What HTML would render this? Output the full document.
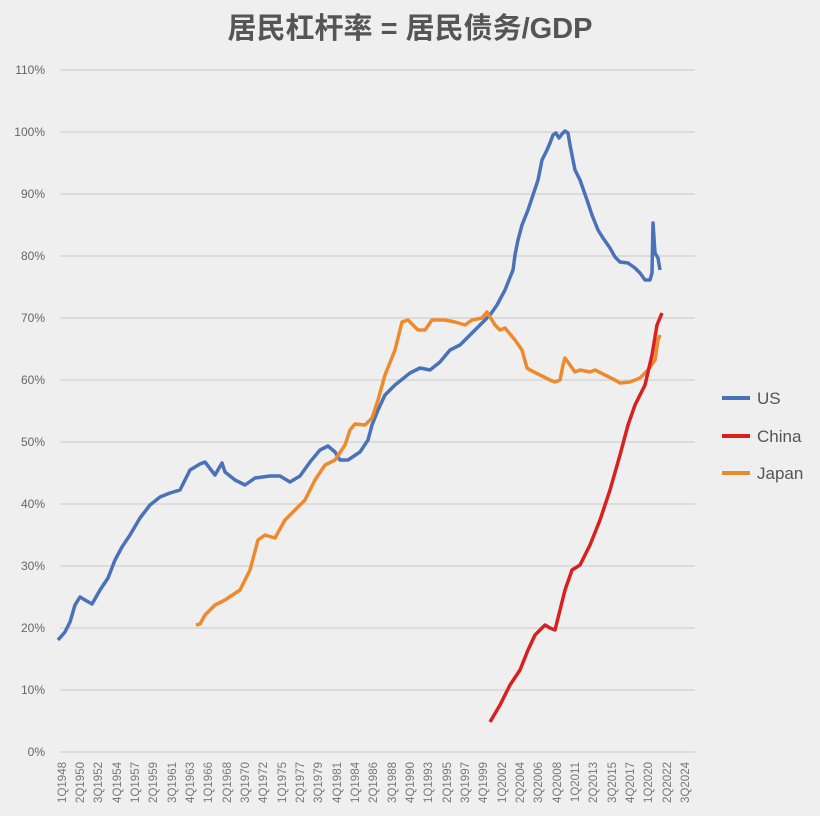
<!DOCTYPE html>
<html><head><meta charset="utf-8"><style>
body{margin:0;background:#efefef;}
svg{display:block;font-family:"Liberation Sans","Noto Sans CJK SC",sans-serif;}
</style></head><body>
<svg width="820" height="816" viewBox="0 0 820 816">
<rect width="820" height="816" fill="#efefef"/>
<text x="410" y="38" text-anchor="middle" font-size="29" font-weight="bold" fill="#555">居民杠杆率 = 居民债务/GDP</text>
<g stroke="#d6d6d6" stroke-width="1.5">
<line x1="60" x2="695" y1="752" y2="752"/><line x1="60" x2="695" y1="690" y2="690"/><line x1="60" x2="695" y1="628" y2="628"/><line x1="60" x2="695" y1="566" y2="566"/><line x1="60" x2="695" y1="504" y2="504"/><line x1="60" x2="695" y1="442" y2="442"/><line x1="60" x2="695" y1="380" y2="380"/><line x1="60" x2="695" y1="318" y2="318"/><line x1="60" x2="695" y1="256" y2="256"/><line x1="60" x2="695" y1="194" y2="194"/><line x1="60" x2="695" y1="132" y2="132"/><line x1="60" x2="695" y1="70" y2="70"/>
</g>
<g font-size="12" fill="#666" text-anchor="end">
<text x="45" y="756">0%</text><text x="45" y="694">10%</text><text x="45" y="632">20%</text><text x="45" y="570">30%</text><text x="45" y="508">40%</text><text x="45" y="446">50%</text><text x="45" y="384">60%</text><text x="45" y="322">70%</text><text x="45" y="260">80%</text><text x="45" y="198">90%</text><text x="45" y="136">100%</text><text x="45" y="74">110%</text>
</g>
<g font-size="11.5" fill="#777" text-anchor="end" id="xl"></g>
<polyline fill="none" stroke="#4a72b8" stroke-width="3.5" stroke-linejoin="round" points="58,640 65,632 70,622 75,605 80,597 85,600 92,604 100,590 108,578 115,560 122,547 130,535 140,518 150,505 160,497 170,493 180,490 190,470 200,464 205,462 215,475 222,463 225,472 235,480 245,485 255,478 270,476 280,476 290,482 300,476 310,462 320,450 328,446 335,452 340,460 348,460 360,452 368,440 372,425 378,410 385,395 395,385 410,373 420,368 430,370 440,362 450,350 460,345 470,335 480,325 490,315 497,305 505,290 513,270 515,255 518,240 522,225 528,210 533,195 538,180 542,160 547,150 550,143 553,135 556,133 559,138 562,134 565,131 568,133 570,145 575,170 580,180 587,200 592,215 598,230 603,238 610,248 615,257 620,262 628,263 635,268 640,273 645,280 650,280 652,273 653,223 655,253 658,258 660,270"/>
<polyline fill="none" stroke="#ee8a2e" stroke-width="3.5" stroke-linejoin="round" points="196,625 200,624 205,615 215,605 225,600 240,590 250,570 258,540 265,535 275,538 285,520 295,510 305,500 315,480 325,465 335,460 345,445 350,430 355,424 365,425 372,418 378,400 385,375 395,350 402,322 408,320 418,330 425,330 432,320 445,320 455,322 465,325 472,320 482,318 487,312 495,325 500,330 505,328 515,340 522,350 527,368 530,370 540,375 550,380 555,382 560,380 563,365 565,358 570,365 575,372 580,370 590,372 595,370 605,375 615,380 620,383 630,382 640,378 648,370 655,360 658,340 660,335"/>
<polyline fill="none" stroke="#d92020" stroke-width="3.5" stroke-linejoin="round" points="490,722 500,705 510,685 520,670 528,650 535,635 545,625 550,628 555,630 560,610 565,590 572,570 580,565 590,545 600,520 610,490 620,455 628,425 635,405 645,385 652,355 657,325 662,313"/>
<line x1="722" x2="750" y1="398" y2="398" stroke="#4a72b8" stroke-width="4"/>
<line x1="722" x2="750" y1="436" y2="436" stroke="#d92020" stroke-width="4"/>
<line x1="722" x2="750" y1="473" y2="473" stroke="#ee8a2e" stroke-width="4"/>
<g font-size="17" fill="#555"><text x="757" y="404">US</text><text x="757" y="442">China</text><text x="757" y="479">Japan</text></g>
<g font-size="11.5" fill="#777" text-anchor="end">
<text transform="translate(66,762) rotate(-90)">1Q1948</text><text transform="translate(84,762) rotate(-90)">2Q1950</text><text transform="translate(102,762) rotate(-90)">3Q1952</text><text transform="translate(121,762) rotate(-90)">4Q1954</text><text transform="translate(139,762) rotate(-90)">1Q1957</text><text transform="translate(157,762) rotate(-90)">2Q1959</text><text transform="translate(176,762) rotate(-90)">3Q1961</text><text transform="translate(194,762) rotate(-90)">4Q1963</text><text transform="translate(212,762) rotate(-90)">1Q1966</text><text transform="translate(231,762) rotate(-90)">2Q1968</text><text transform="translate(249,762) rotate(-90)">3Q1970</text><text transform="translate(267,762) rotate(-90)">4Q1972</text><text transform="translate(286,762) rotate(-90)">1Q1975</text><text transform="translate(304,762) rotate(-90)">2Q1977</text><text transform="translate(322,762) rotate(-90)">3Q1979</text><text transform="translate(341,762) rotate(-90)">4Q1981</text><text transform="translate(359,762) rotate(-90)">1Q1984</text><text transform="translate(377,762) rotate(-90)">2Q1986</text><text transform="translate(396,762) rotate(-90)">3Q1988</text><text transform="translate(414,762) rotate(-90)">4Q1990</text><text transform="translate(432,762) rotate(-90)">1Q1993</text><text transform="translate(451,762) rotate(-90)">2Q1995</text><text transform="translate(469,762) rotate(-90)">3Q1997</text><text transform="translate(487,762) rotate(-90)">4Q1999</text><text transform="translate(506,762) rotate(-90)">1Q2002</text><text transform="translate(524,762) rotate(-90)">2Q2004</text><text transform="translate(542,762) rotate(-90)">3Q2006</text><text transform="translate(561,762) rotate(-90)">4Q2008</text><text transform="translate(579,762) rotate(-90)">1Q2011</text><text transform="translate(597,762) rotate(-90)">2Q2013</text><text transform="translate(616,762) rotate(-90)">3Q2015</text><text transform="translate(634,762) rotate(-90)">4Q2017</text><text transform="translate(652,762) rotate(-90)">1Q2020</text><text transform="translate(671,762) rotate(-90)">2Q2022</text><text transform="translate(689,762) rotate(-90)">3Q2024</text>
</g>
</svg>
</body></html>
